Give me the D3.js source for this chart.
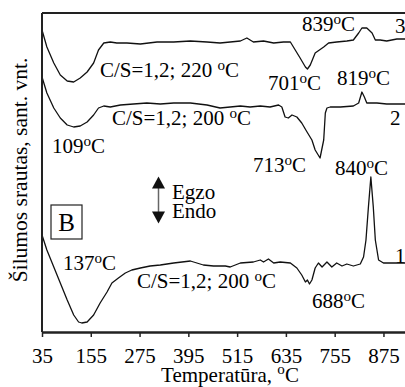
<!DOCTYPE html>
<html>
<head>
<meta charset="utf-8">
<script src="https://cdn.jsdelivr.net/npm/d3@7"></script>
<style>
  body { margin: 0; background: #fff; }
  svg { display: block; }
  text { font-family: "Liberation Serif", "Times New Roman", serif; fill: #000; }
</style>
</head>
<body>
<div id="chart"></div>
<script>
// DTA curves, temperature (°C) vs relative heat flow (arbitrary units, shifted per curve)
const curve3T = [35, 47, 64, 80, 97, 113, 129, 146, 162, 174, 187, 203, 219, 244, 277, 318, 359, 400, 441, 473, 498, 523, 539, 555, 580, 605, 629, 646, 658, 670, 683, 688, 695, 707, 728, 740, 760, 785, 801, 814, 822, 834, 847, 855, 867, 883, 908, 928];
const curve3V = [302, 285, 269, 257, 251, 250, 254, 260, 269, 282, 289, 290, 289, 289, 288, 290, 290, 291, 290, 289, 290, 291, 294, 290, 291, 289, 290, 290, 282, 274, 265, 263, 267, 279, 285, 289, 290, 291, 292, 299, 304, 304, 299, 292, 292, 291, 293, 293];

const curve2T = [35, 47, 64, 80, 97, 113, 129, 146, 162, 174, 187, 203, 228, 260, 293, 326, 359, 400, 441, 473, 498, 523, 547, 572, 596, 617, 625, 633, 641, 650, 662, 674, 687, 699, 707, 719, 728, 732, 736, 744, 769, 801, 814, 822, 828, 834, 859, 883, 928];
const curve2V = [255, 239, 224, 214, 207, 205, 206, 210, 217, 224, 226, 225, 227, 228, 229, 228, 229, 229, 227, 224, 225, 226, 225, 226, 225, 227, 225, 215, 214, 217, 215, 209, 200, 192, 182, 174, 192, 219, 224, 225, 225, 226, 229, 240, 235, 229, 229, 228, 228];

const curve1T = [35, 47, 64, 80, 97, 113, 125, 133, 146, 162, 178, 195, 207, 223, 240, 256, 277, 301, 326, 359, 400, 432, 457, 486, 498, 523, 555, 572, 580, 592, 605, 621, 646, 662, 674, 683, 688, 693, 699, 707, 715, 724, 736, 748, 760, 773, 785, 801, 818, 826, 832, 838, 844, 850, 855, 863, 875, 900, 928];
const curve1V = [97, 82, 65, 49, 32, 17, 10, 9, 10, 17, 29, 40, 49, 54, 59, 62, 64, 66, 67, 69, 71, 67, 66, 66, 65, 69, 70, 72, 70, 73, 69, 70, 69, 64, 57, 50, 52, 48, 52, 64, 69, 65, 70, 65, 69, 66, 68, 66, 68, 75, 92, 125, 155, 125, 92, 72, 69, 69, 69];

const xTicks = [35, 155, 275, 395, 515, 635, 755, 875];

const width = 405, height = 387;
const margin = { left: 42, right: 405, top: 13, bottom: 332 };
const fs = 21;

const svg = d3.select("#chart").append("svg")
  .attr("width", width)
  .attr("height", height);

const x = d3.scaleLinear().domain([35, 928]).range([margin.left, margin.right]);
const y = d3.scaleLinear().domain([0, 319]).range([margin.bottom, margin.top]);

const line = d3.line()
  .x(d => x(d[0]))
  .y(d => y(d[1]));

[[curve1T, curve1V], [curve2T, curve2V], [curve3T, curve3V]].forEach(([t, v]) => {
  svg.append("path")
    .datum(d3.zip(t, v))
    .attr("d", line)
    .attr("fill", "none")
    .attr("stroke", "#111")
    .attr("stroke-width", 1.3)
    .attr("stroke-linejoin", "round");
});

// frame: top border and left axis
svg.append("line")
  .attr("x1", margin.left).attr("x2", margin.right)
  .attr("y1", margin.top).attr("y2", margin.top)
  .attr("stroke", "#222").attr("stroke-width", 2);
svg.append("line")
  .attr("x1", margin.left).attr("x2", margin.left)
  .attr("y1", margin.top).attr("y2", margin.bottom)
  .attr("stroke", "#222").attr("stroke-width", 2);

const xAxis = svg.append("g")
  .attr("transform", `translate(0,${margin.bottom})`)
  .call(d3.axisBottom(x).tickValues(xTicks).tickSize(5).tickSizeOuter(0).tickPadding(11));
xAxis.select(".domain").attr("stroke", "#222").attr("stroke-width", 2.5);
xAxis.selectAll(".tick line").attr("stroke", "#222").attr("stroke-width", 1.5);
xAxis.selectAll(".tick text")
  .attr("font-family", "Liberation Serif")
  .attr("font-size", fs)
  .attr("fill", "#000");

// text with a superscript "o" for degrees
function degText(px, py, str, size, anchor) {
  const t = svg.append("text")
    .attr("x", px).attr("y", py)
    .attr("font-size", size)
    .attr("text-anchor", anchor || "start");
  const parts = str.split("°");
  t.append("tspan").text(parts[0]);
  if (parts.length > 1) {
    const up = size * 0.34;
    t.append("tspan").attr("font-size", size * 0.72).attr("dy", -up).text("o");
    t.append("tspan").attr("dy", up).text(parts[1]);
  }
  return t;
}

degText(302, 31, "839°C", fs);
degText(395, 33, "3", fs);
degText(100, 77, "C/S=1,2; 220 °C", fs);
degText(268, 90, "701°C", fs);
degText(337, 85, "819°C", fs);
degText(52, 153, "109°C", fs);
degText(112, 125, "C/S=1,2; 200 °C", fs);
degText(390, 125, "2", fs);
degText(253, 172, "713°C", fs);
degText(335, 175, "840°C", fs);
degText(63, 270, "137°C", fs);
degText(137, 288, "C/S=1,2; 200 °C", fs);
degText(395, 263, "1", fs);
degText(312, 308, "688°C", fs);

// B box
svg.append("rect")
  .attr("x", 51).attr("y", 205).attr("width", 31).attr("height", 34)
  .attr("fill", "#fff").attr("stroke", "#222").attr("stroke-width", 1.2);
svg.append("text")
  .attr("x", 66.5).attr("y", 231)
  .attr("text-anchor", "middle")
  .attr("font-size", 25)
  .text("B");

// Egzo / Endo arrow
svg.append("line")
  .attr("x1", 158.5).attr("x2", 158.5)
  .attr("y1", 185).attr("y2", 215)
  .attr("stroke", "#666").attr("stroke-width", 1.5);
svg.append("path")
  .attr("d", "M158.5,176.5 L152,188.5 L165,188.5 Z")
  .attr("fill", "#111");
svg.append("path")
  .attr("d", "M158.5,223.5 L152,211.5 L165,211.5 Z")
  .attr("fill", "#111");
degText(172, 199, "Egzo", fs);
degText(172, 218, "Endo", fs);

// axis titles
degText(230, 381.5, "Temperatūra, °C", fs, "middle");
svg.append("text")
  .attr("transform", "translate(27,170) rotate(-90)")
  .attr("text-anchor", "middle")
  .attr("font-size", 21.5)
  .text("Šilumos srautas, sant. vnt.");
</script>
</body>
</html>
